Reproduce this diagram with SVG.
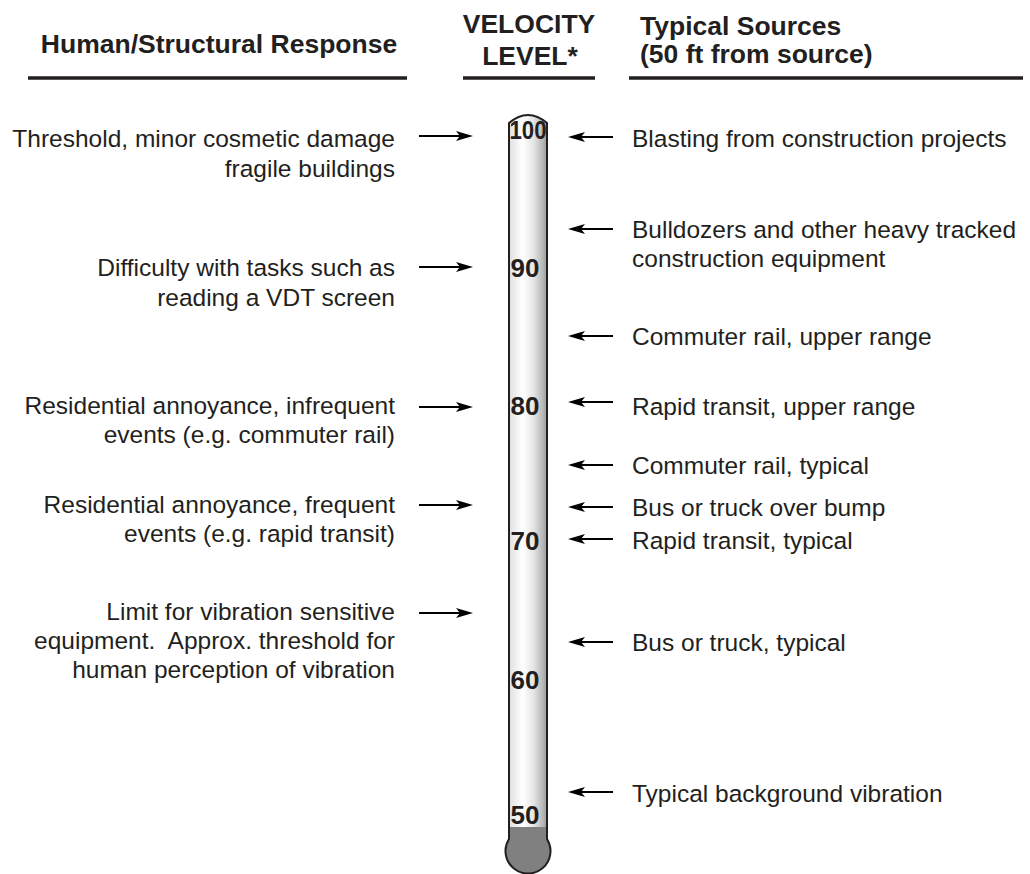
<svg xmlns="http://www.w3.org/2000/svg" width="1030" height="874" viewBox="0 0 1030 874">
<style>
  text { font-family: "Liberation Sans", Arial, sans-serif; fill: #231f20; }
  .hd { font-size: 26.5px; font-weight: bold; }
  .lbl { font-size: 24.5px; }
  .lt { text-anchor: end; }
  .num { font-size: 26px; font-weight: bold; }
  .rule { stroke: #231f20; stroke-width: 3.5; fill: none; }
  .arr { stroke: #000; stroke-width: 2.2; fill: none; marker-end: url(#ah); }
</style>
<defs>
  <marker id="ah" markerUnits="userSpaceOnUse" markerWidth="18" markerHeight="12" refX="5" refY="6" orient="auto">
    <path d="M0,1 L17,6 L0,11 L4,6 Z" fill="#000"/>
  </marker>
  <linearGradient id="tube" x1="0" y1="0" x2="1" y2="0">
    <stop offset="0" stop-color="#c4c4c4"/>
    <stop offset="0.12" stop-color="#e4e4e4"/>
    <stop offset="0.38" stop-color="#ffffff"/>
    <stop offset="0.62" stop-color="#e6e6e6"/>
    <stop offset="0.85" stop-color="#b2b2b2"/>
    <stop offset="1" stop-color="#7e7e7e"/>
  </linearGradient>
</defs>
<rect width="1030" height="874" fill="#fff"/>

<g id="header-left">
  <text class="hd" x="219" y="53" text-anchor="middle">Human/Structural Response</text>
  <line class="rule" x1="28" y1="78" x2="407" y2="78"/>
</g>
<g id="header-middle">
  <text class="hd" x="529" y="33" text-anchor="middle">VELOCITY</text>
  <text class="hd" x="530" y="65" text-anchor="middle">LEVEL*</text>
  <line class="rule" x1="463" y1="78" x2="595" y2="78"/>
</g>
<g id="header-right">
  <text class="hd" x="640" y="35">Typical Sources</text>
  <text class="hd" x="640" y="63">(50 ft from source)</text>
  <line class="rule" x1="629" y1="78" x2="1023" y2="78"/>
</g>

<g id="thermometer">
  <path d="M509,123 Q528,107 547,123 L547,839 A22.5,22.5 0 1 1 509,839 Z" fill="url(#tube)"/>
  <path d="M509,827 H547 V839 A22.5,22.5 0 1 1 509,839 Z" fill="#808080"/>
  <path d="M509,123 Q528,107 547,123 L547,839 A22.5,22.5 0 1 1 509,839 Z" fill="none" stroke="#231f20" stroke-width="2"/>
  <text class="num" x="509.5" y="139" textLength="37" lengthAdjust="spacingAndGlyphs">100</text>
  <text class="num" x="510.5" y="277">90</text>
  <text class="num" x="510.5" y="415">80</text>
  <text class="num" x="510.5" y="550">70</text>
  <text class="num" x="510.5" y="689">60</text>
  <text class="num" x="510.5" y="824">50</text>
</g>

<g id="response-threshold">
  <text class="lbl lt" x="395" y="147">Threshold, minor cosmetic damage</text>
  <text class="lbl lt" x="395" y="177">fragile buildings</text>
</g>
<g id="response-difficulty">
  <text class="lbl lt" x="395" y="276">Difficulty with tasks such as</text>
  <text class="lbl lt" x="395" y="306">reading a VDT screen</text>
</g>
<g id="response-infrequent">
  <text class="lbl lt" x="395" y="414">Residential annoyance, infrequent</text>
  <text class="lbl lt" x="395" y="443">events (e.g. commuter rail)</text>
</g>
<g id="response-frequent">
  <text class="lbl lt" x="395" y="513">Residential annoyance, frequent</text>
  <text class="lbl lt" x="395" y="542">events (e.g. rapid transit)</text>
</g>
<g id="response-limit">
  <text class="lbl lt" x="395" y="620">Limit for vibration sensitive</text>
  <text class="lbl lt" x="395" y="649">equipment.&#160; Approx. threshold for</text>
  <text class="lbl lt" x="395" y="678">human perception of vibration</text>
</g>

<g id="source-blasting"><text class="lbl" x="632" y="147">Blasting from construction projects</text></g>
<g id="source-bulldozers">
  <text class="lbl" x="632" y="238">Bulldozers and other heavy tracked</text>
  <text class="lbl" x="632" y="267">construction equipment</text>
</g>
<g id="source-commuter-upper"><text class="lbl" x="632" y="345">Commuter rail, upper range</text></g>
<g id="source-rapid-upper"><text class="lbl" x="632" y="415">Rapid transit, upper range</text></g>
<g id="source-commuter-typical"><text class="lbl" x="632" y="474">Commuter rail, typical</text></g>
<g id="source-bus-bump"><text class="lbl" x="632" y="516">Bus or truck over bump</text></g>
<g id="source-rapid-typical"><text class="lbl" x="632" y="549">Rapid transit, typical</text></g>
<g id="source-bus-typical"><text class="lbl" x="632" y="651">Bus or truck, typical</text></g>
<g id="source-background"><text class="lbl" x="632" y="802">Typical background vibration</text></g>

<g id="connectors">
  <line class="arr" x1="419" y1="136" x2="461" y2="136"/>
  <line class="arr" x1="419" y1="267" x2="461" y2="267"/>
  <line class="arr" x1="419" y1="407" x2="461" y2="407"/>
  <line class="arr" x1="419" y1="505" x2="461" y2="505"/>
  <line class="arr" x1="419" y1="613" x2="461" y2="613"/>

  <line class="arr" x1="613" y1="137" x2="580" y2="137"/>
  <line class="arr" x1="613" y1="229" x2="580" y2="229"/>
  <line class="arr" x1="613" y1="336" x2="580" y2="336"/>
  <line class="arr" x1="613" y1="402" x2="580" y2="402"/>
  <line class="arr" x1="613" y1="465" x2="580" y2="465"/>
  <line class="arr" x1="613" y1="507" x2="580" y2="507"/>
  <line class="arr" x1="613" y1="539" x2="580" y2="539"/>
  <line class="arr" x1="613" y1="642" x2="580" y2="642"/>
  <line class="arr" x1="613" y1="792" x2="580" y2="792"/>
</g>
</svg>
